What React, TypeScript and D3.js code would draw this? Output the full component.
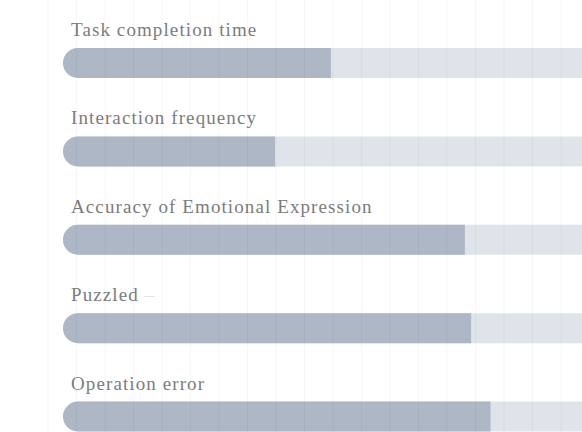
import * as d3 from 'd3';
import React from 'react';

// metrics and how far each one got (out of 100)
const categories = [
  'Task completion time',
  'Interaction frequency',
  'Accuracy of Emotional Expression',
  'Puzzled',
  'Operation error',
];
const values = [47, 37.2, 70.5, 71.6, 75];
const maxValue = 100;

const width = 582;
const height = 432;

// left-rounded bar (right side stays square)
const leftRounded = (x0, y0, w, h, r) => {
  const p = d3.path();
  p.moveTo(x0 + w, y0);
  p.lineTo(x0 + r, y0);
  p.arc(x0 + r, y0 + r, r, -Math.PI / 2, -Math.PI * 1.5, true);
  p.lineTo(x0 + r, y0 + h);
  p.lineTo(x0 + w, y0 + h);
  p.closePath();
  return p.toString();
};

const App = () => {
  const x = d3.scaleLinear().domain([0, maxValue]).range([63, 633]);
  const y = d3.scalePoint().domain(categories).range([48, 401.5]);
  const barH = 30;

  // faint background grid
  const gridX = d3.scaleLinear().domain([0, 20]).range([48, 618]);

  return (
    <svg
      width={width}
      height={height}
      style={{ position: 'absolute', left: 0, top: 0, background: '#fff' }}
    >
      {categories.map((c, i) => {
        const top = y(c);
        return (
          <g key={c}>
            <path d={leftRounded(x(0), top, x(maxValue) - x(0), barH, barH / 2)} fill="#dfe3ea" />
            <path d={leftRounded(x(0), top, x(values[i]) - x(0), barH, barH / 2)} fill="#adb7c5" />
            <text
              x={x(0) + 8}
              y={top - 12}
              fontFamily="Liberation Serif"
              fontSize={19}
              letterSpacing={1.1}
              fill="#7c7c7c"
            >
              {c}
              {c === 'Puzzled' ? <tspan fill="#e2e2e2"> –</tspan> : null}
            </text>
          </g>
        );
      })}
      <g>
        {gridX.ticks(20).map(t => (
          <line
            key={t}
            x1={gridX(t)}
            x2={gridX(t)}
            y1={0}
            y2={height}
            stroke="#000"
            strokeOpacity={0.03}
          />
        ))}
      </g>
    </svg>
  );
};

export default App;
